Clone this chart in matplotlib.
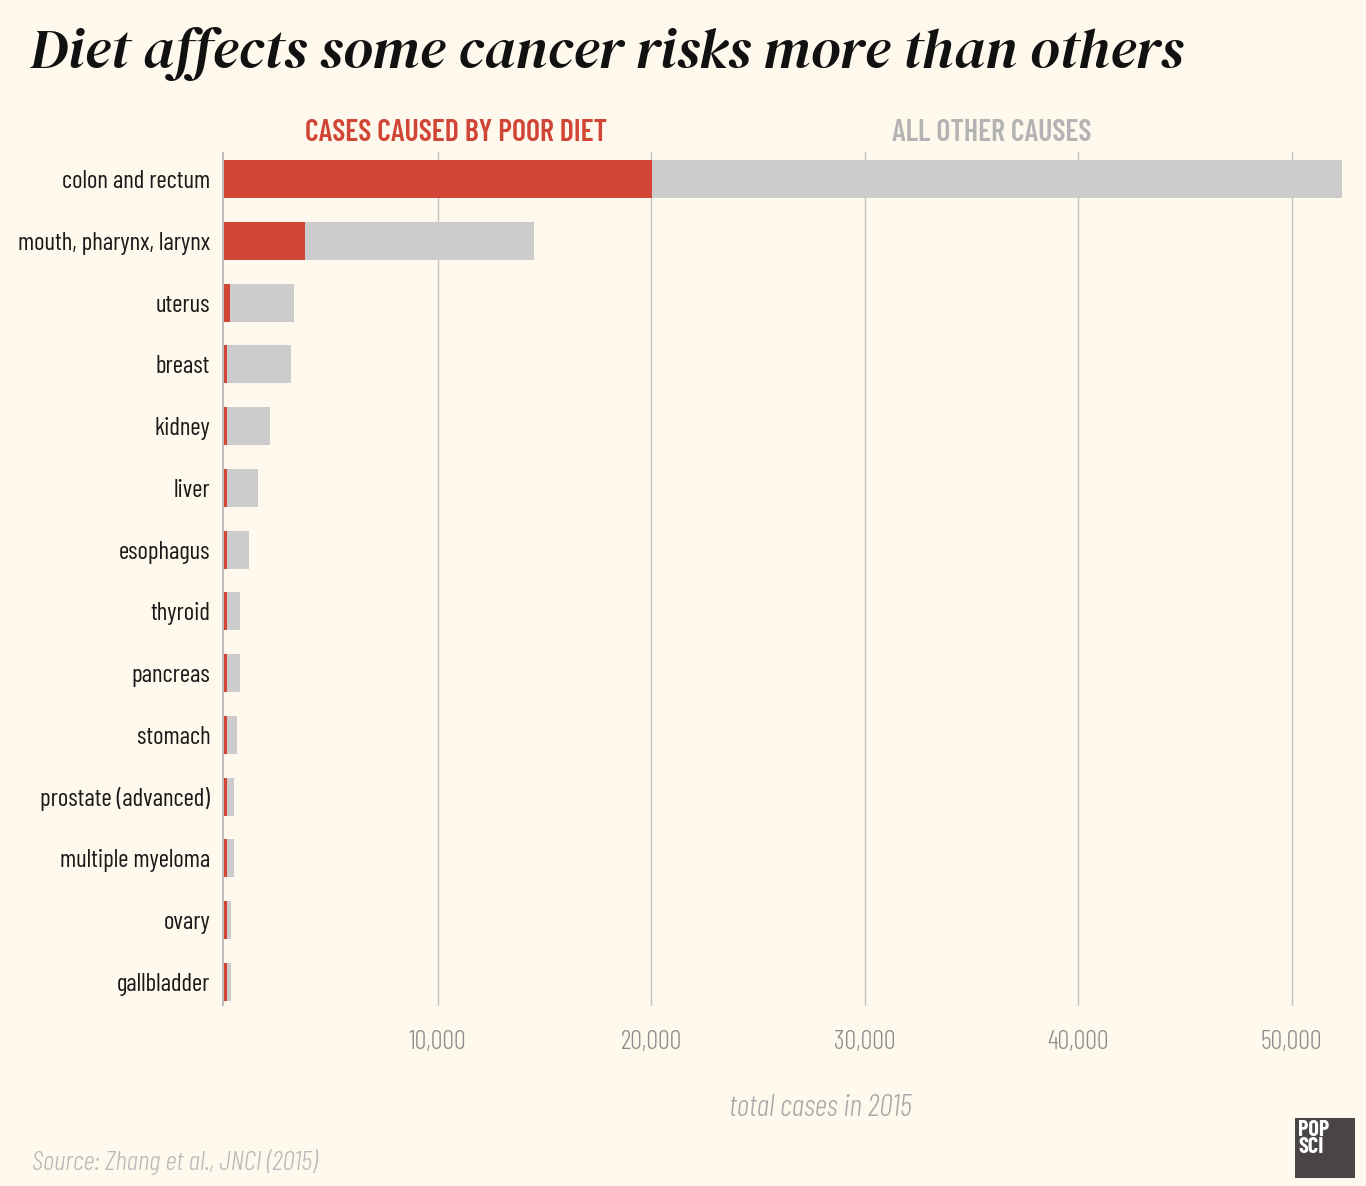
import matplotlib
matplotlib.use("Agg")
import matplotlib.pyplot as plt
from matplotlib.patches import Rectangle
import numpy as np

categories = ["colon and rectum", "mouth, pharynx, larynx", "uterus", "breast", "kidney",
              "liver", "esophagus", "thyroid", "pancreas", "stomach", "prostate (advanced)",
              "multiple myeloma", "ovary", "gallbladder"]
diet_cases = [20050, 3800, 300, 150, 150, 150, 150, 150, 150, 150, 150, 150, 150, 150]
total_cases = [52370, 14520, 3280, 3140, 2160, 1600, 1170, 750, 750, 610, 470, 470, 330, 330]
xticks = [10000, 20000, 30000, 40000, 50000]
xtick_labels = ["10,000", "20,000", "30,000", "40,000", "50,000"]

other_cases = [t - d for t, d in zip(total_cases, diet_cases)]

BG = "#fef9ec"
RED = "#d14537"
GRAY = "#cccccc"
COND = ["Barlow Condensed", "DejaVu Sans"]
TITLE = ["DM Serif Display", "Liberation Serif", "DejaVu Serif"]

fig = plt.figure(figsize=(13.66, 11.86), dpi=100, facecolor=BG)
W, H = 1366, 1186
ax = fig.add_axes([222 / W, (H - 1006) / H, (1360 - 222) / W, (1006 - 152) / H])
ax.set_facecolor(BG)

y = np.arange(len(categories))
ax.barh(y, diet_cases, height=0.615, color=RED, zorder=3)
ax.barh(y, other_cases, left=diet_cases, height=0.615, color=GRAY, zorder=3)

ax.set_xlim(-94, 53208)
ax.set_ylim(13.39, -0.44)
for t in xticks:
    ax.axvline(t, color="#c4c4c4", lw=1.0, zorder=1)
ax.axvline(-94, color="#b8b8b8", lw=2.0, zorder=4)

for s in ax.spines.values():
    s.set_visible(False)
ax.set_yticks(y)
ax.set_yticklabels(categories, family=COND, fontsize=18, color="#1a1a1a", fontweight=400)
ax.tick_params(axis="y", length=0, pad=8.5)
ax.set_xticks(xticks)
ax.set_xticklabels(xtick_labels, family=COND, fontsize=19, color="#8c8c8c", fontweight=300)
ax.tick_params(axis="x", length=0, pad=17)

fig.text(30 / W, 1 - 54 / H, "Diet affects some cancer risks more than others",
         family=TITLE, style="italic", fontsize=41, color="#111111",
         va="center", ha="left")
fig.text(456 / W, 1 - 133 / H, "CASES CAUSED BY POOR DIET", family=COND,
         fontweight=600, fontsize=21.5, color=RED, ha="center", va="center")
fig.text(992 / W, 1 - 133 / H, "ALL OTHER CAUSES", family=COND,
         fontweight=600, fontsize=21.5, color="#b3b3b3", ha="center", va="center")
fig.text(820 / W, 1 - 1108 / H, "total cases in 2015", family=COND, style="italic",
         fontweight=300, fontsize=22, color="#a8a8a8", ha="center", va="center")
fig.text(32 / W, 1 - 1162 / H, "Source: Zhang et al., JNCI (2015)", family=COND,
         style="italic", fontweight=300, fontsize=20, color="#b8b8b8", ha="left", va="center")

fig.patches.append(Rectangle((1295 / W, 1 - 1178 / H), 60 / W, 60 / H,
                             transform=fig.transFigure, facecolor="#4a4545",
                             edgecolor="none"))
fig.text(1298 / W, 1 - 1129.5 / H, "POP", family=COND, fontweight=700,
         fontsize=16, color="white", ha="left", va="center")
fig.text(1298 / W, 1 - 1147 / H, "SCI", family=COND, fontweight=700,
         fontsize=16, color="white", ha="left", va="center")

fig.savefig("out.png", dpi=100, facecolor=BG)
